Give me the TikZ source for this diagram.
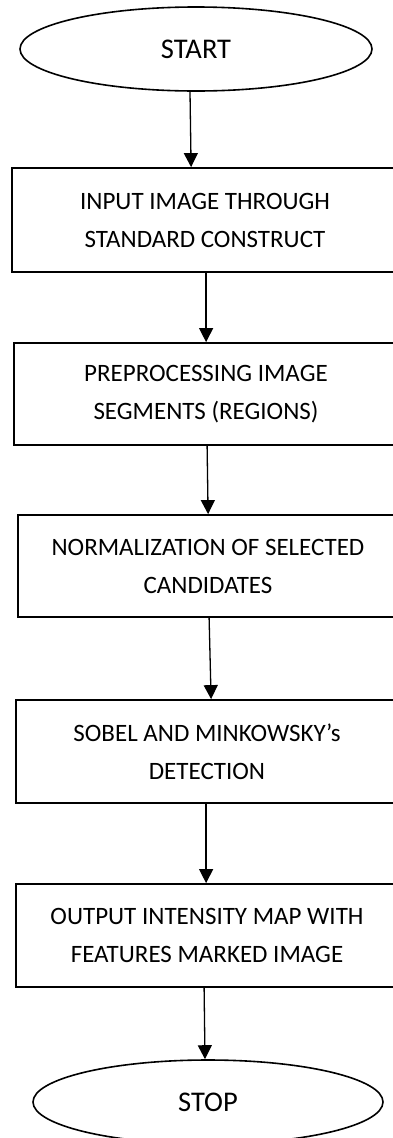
\documentclass[tikz,border=0pt]{standalone}
\usepackage{fontspec}
\setmainfont{Carlito}
\usetikzlibrary{shapes.geometric,arrows.meta,calc}
\begin{document}
\begin{tikzpicture}[x=1pt,y=-1pt,
  every node/.style={font=\fontsize{25}{38}\selectfont},
  terminal/.style={draw,ellipse,line width=1.6pt,minimum width=352pt,minimum height=84pt,inner sep=0pt,font=\fontsize{28.5}{38}\selectfont},
  stepbox/.style={draw,rectangle,line width=1.8pt,inner sep=0pt,align=center},
  flow/.style={line width=1.3pt,-{Triangle[width=14pt,length=14pt]}}]
\useasboundingbox (0,0) rectangle (392,1138);
\node[terminal] (s) at (196,49) {START};
\node[stepbox,minimum width=386pt,minimum height=104pt] (b1) at (205,220) {INPUT IMAGE THROUGH\\STANDARD CONSTRUCT};
\node[stepbox,minimum width=384pt,minimum height=102pt] (b2) at (206,394) {PREPROCESSING IMAGE\\SEGMENTS (REGIONS)};
\node[stepbox,minimum width=380pt,minimum height=102pt] (b3) at (208,566) {NORMALIZATION OF SELECTED\\CANDIDATES};
\node[stepbox,minimum width=382pt,minimum height=103pt] (b4) at (207,751.5) {SOBEL AND MINKOWSKY’s\\DETECTION};
\node[stepbox,minimum width=382pt,minimum height=103pt] (b5) at (207,935.5) {OUTPUT INTENSITY MAP WITH\\FEATURES MARKED IMAGE};
\node[terminal,minimum width=350pt] (e) at (208,1102) {STOP};
\draw[flow] ($(s.south)+(-6,0)$) -- ($(b1.north west)+(180,0)$);
\draw[flow] ($(b1.south west)+(195,0)$) -- ($(b2.north west)+(193,0)$);
\draw[flow] ($(b2.south west)+(194,0)$) -- ($(b3.north west)+(191,0)$);
\draw[flow] ($(b3.south west)+(192,0)$) -- ($(b4.north west)+(196,0)$);
\draw[flow] ($(b4.south west)+(191,0)$) -- ($(b5.north west)+(191,0)$);
\draw[flow] ($(b5.south west)+(189,0)$) -- ($(e.north)+(-3,0)$);
\end{tikzpicture}
\end{document}
